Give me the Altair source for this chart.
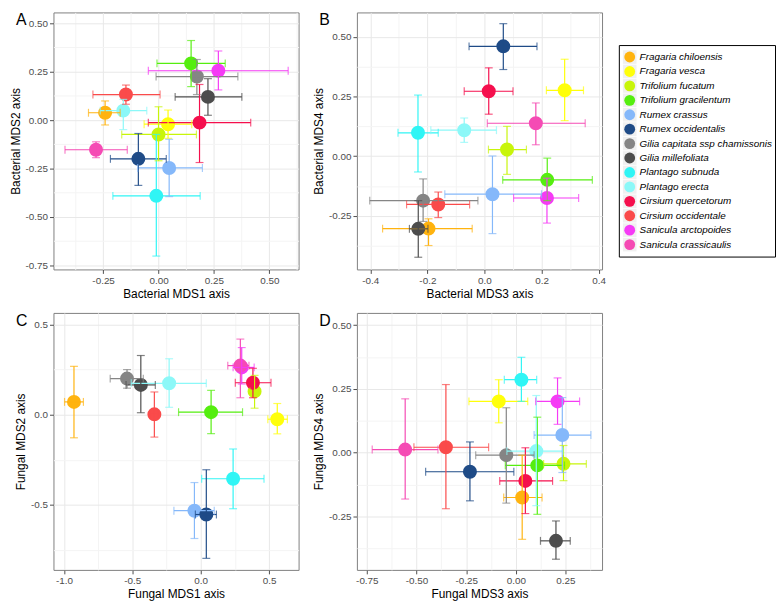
import altair as alt
import pandas as pd

species = ["Fragaria chiloensis", "Fragaria vesca", "Trifolium fucatum", "Trifolium gracilentum",
           "Rumex crassus", "Rumex occidentalis", "Gilia capitata ssp chamissonis", "Gilia millefoliata",
           "Plantago subnuda", "Plantago erecta", "Cirsium quercetorum", "Cirsium occidentale",
           "Sanicula arctopoides", "Sanicula crassicaulis"]
colors = ["#FFB30F", "#FFFF0A", "#C8F50A", "#55EE0F", "#85B8FA", "#1F4B87", "#858585", "#4D4D4D",
          "#30F5F5", "#8CF8F8", "#F50F4D", "#FA4B4B", "#F53BF5", "#F54BB4"]

# Panel A: Bacterial MDS1 vs MDS2
a_x = [-0.241, 0.043, 0.000, 0.147, 0.048, -0.091, 0.173, 0.223, -0.010, -0.159, 0.185, -0.147, 0.270, -0.282]
a_xlo = [-0.316, -0.065, -0.166, -0.007, -0.094, -0.217, -0.011, 0.075, -0.206, -0.263, -0.046, -0.296, -0.046, -0.422]
a_xhi = [-0.173, 0.150, 0.171, 0.301, 0.198, 0.035, 0.358, 0.376, 0.188, -0.053, 0.416, 0.007, 0.585, -0.141]
a_y = [0.038, -0.021, -0.074, 0.293, -0.247, -0.200, 0.225, 0.120, -0.391, 0.049, -0.013, 0.132, 0.255, -0.153]
a_ylo = [-0.025, -0.094, -0.210, 0.173, -0.395, -0.337, 0.132, 0.025, -0.702, -0.049, -0.219, 0.082, 0.156, -0.194]
a_yhi = [0.099, 0.052, 0.069, 0.411, -0.099, -0.069, 0.313, 0.214, -0.074, 0.107, 0.184, 0.181, 0.357, -0.112]

# Panel B: Bacterial MDS3 vs MDS4
b_x = [-0.196, 0.281, 0.079, 0.220, 0.028, 0.066, -0.215, -0.232, -0.233, -0.071, 0.015, -0.162, 0.219, 0.180]
b_xlo = [-0.357, 0.217, 0.014, 0.064, -0.139, -0.054, -0.402, -0.263, -0.303, -0.188, -0.071, -0.273, 0.102, 0.010]
b_xhi = [-0.043, 0.347, 0.147, 0.378, 0.200, 0.184, -0.023, -0.198, -0.162, 0.042, 0.100, -0.052, 0.330, 0.353]
b_y = [-0.303, 0.276, 0.028, -0.099, -0.159, 0.460, -0.186, -0.304, 0.098, 0.109, 0.272, -0.202, -0.175, 0.138]
b_ylo = [-0.374, 0.149, -0.076, -0.186, -0.324, 0.363, -0.273, -0.423, -0.066, 0.058, 0.176, -0.257, -0.280, 0.048]
b_yhi = [-0.262, 0.406, 0.125, -0.008, 0.001, 0.555, -0.095, -0.186, 0.256, 0.160, 0.370, -0.150, -0.092, 0.223]

# Panel C: Fungal MDS1 vs MDS2
c_x = [-0.927, 0.560, 0.394, 0.076, -0.046, 0.041, -0.539, -0.438, 0.237, -0.231, 0.382, -0.339, 0.300, 0.290]
c_xlo = [-0.996, 0.491, 0.360, -0.162, -0.196, -0.039, -0.662, -0.546, 0.007, -0.508, 0.253, -0.370, 0.237, 0.198]
c_xhi = [-0.858, 0.634, 0.430, 0.306, 0.099, 0.115, -0.420, -0.332, 0.463, 0.041, 0.514, -0.310, 0.391, 0.353]
c_y = [0.071, -0.025, 0.129, 0.014, -0.532, -0.553, 0.200, 0.165, -0.355, 0.174, 0.177, 0.002, 0.262, 0.272]
c_ylo = [-0.128, -0.106, 0.036, -0.105, -0.686, -0.796, 0.147, 0.011, -0.521, 0.041, 0.094, -0.124, 0.170, 0.094]
c_yhi = [0.268, 0.062, 0.218, 0.135, -0.376, -0.305, 0.250, 0.328, -0.190, 0.310, 0.257, 0.126, 0.372, 0.419]

# Panel D: Fungal MDS3 vs MDS4
d_x = [0.032, -0.086, 0.240, 0.108, 0.234, -0.231, -0.048, 0.202, 0.028, 0.103, 0.048, -0.352, 0.210, -0.557]
d_xlo = [-0.061, -0.236, 0.140, -0.053, 0.092, -0.454, -0.202, 0.124, -0.058, -0.045, -0.081, -0.513, 0.100, -0.723]
d_xhi = [0.132, 0.060, 0.355, 0.245, 0.378, -0.010, 0.092, 0.274, 0.105, 0.237, 0.185, -0.137, 0.321, -0.392]
d_y = [-0.176, 0.201, -0.044, -0.050, 0.069, -0.075, -0.010, -0.346, 0.286, 0.006, -0.111, 0.021, 0.201, 0.012]
d_ylo = [-0.340, 0.117, -0.110, -0.242, -0.078, -0.189, -0.198, -0.418, 0.201, -0.208, -0.239, -0.220, 0.111, -0.182]
d_yhi = [-0.010, 0.286, 0.028, 0.139, 0.216, 0.042, 0.176, -0.268, 0.374, 0.224, 0.019, 0.267, 0.293, 0.211]

FONT = "Liberation Sans"
W, H = 248, 260

cscale = alt.Scale(domain=species, range=colors)
col = alt.Color("species:N", scale=cscale, legend=None)


def make_axis(vals, step, fmt):
    major = f"abs(datum.value/{step} - round(datum.value/{step})) < 1e-6"
    return alt.Axis(
        values=vals,
        labelOverlap=False,
        labelExpr=f"{major} ? replace(format(datum.value, '{fmt}'), '\u2212', '-') : ''",
        gridColor={"condition": {"test": major, "value": "#E8E8E8"}, "value": "#F4F4F4"},
        tickOpacity={"condition": {"test": major, "value": 1}, "value": 0},
    )


def panel(xs, xlo, xhi, ys, ylo, yhi, xt, yt, xdom, ydom, xvals, yvals, xstep, ystep, xfmt, yfmt, letter):
    df = pd.DataFrame({"species": species, "x": xs, "xlo": xlo, "xhi": xhi,
                       "y": ys, "ylo": ylo, "yhi": yhi})
    xscale = alt.Scale(domain=xdom, zero=False, nice=False)
    yscale = alt.Scale(domain=ydom, zero=False, nice=False)
    xaxis = make_axis(xvals, xstep, xfmt)
    yaxis = make_axis(yvals, ystep, yfmt)

    def X(f):
        return alt.X(f, type="quantitative", scale=xscale, axis=xaxis, title=xt)

    def Y(f):
        return alt.Y(f, type="quantitative", scale=yscale, axis=yaxis, title=yt)

    base = alt.Chart(df)
    pts = base.mark_circle(size=200, opacity=1).encode(x=X("x"), y=Y("y"), color=col)
    hbar = base.mark_rule(strokeWidth=1.2).encode(x=X("xlo"), x2="xhi", y=Y("y"), color=col)
    vbar = base.mark_rule(strokeWidth=1.2).encode(y=Y("ylo"), y2="yhi", x=X("x"), color=col)
    cap1 = base.mark_tick(orient="vertical", size=8, thickness=1.2).encode(x=X("xlo"), y=Y("y"), color=col)
    cap2 = base.mark_tick(orient="vertical", size=8, thickness=1.2).encode(x=X("xhi"), y=Y("y"), color=col)
    cap3 = base.mark_tick(orient="horizontal", size=8, thickness=1.2).encode(x=X("x"), y=Y("ylo"), color=col)
    cap4 = base.mark_tick(orient="horizontal", size=8, thickness=1.2).encode(x=X("x"), y=Y("yhi"), color=col)
    lab = alt.Chart(pd.DataFrame({"t": [letter]})).mark_text(
        align="left", baseline="top", fontSize=16, font=FONT, color="black").encode(
        text="t:N", x=alt.value(-38), y=alt.value(0))
    return alt.layer(pts, hbar, vbar, cap1, cap2, cap3, cap4, lab).properties(width=W, height=H)


pA = panel(a_x, a_xlo, a_xhi, a_y, a_ylo, a_yhi, "Bacterial MDS1 axis", "Bacterial MDS2 axis",
           [-0.474, 0.632], [-0.771, 0.556],
           [-0.375, -0.25, -0.125, 0.0, 0.125, 0.25, 0.375, 0.5, 0.625],
           [-0.75, -0.625, -0.5, -0.375, -0.25, -0.125, 0.0, 0.125, 0.25, 0.375, 0.5],
           0.25, 0.25, ".2f", ".2f", "A")
pB = panel(b_x, b_xlo, b_xhi, b_y, b_ylo, b_yhi, "Bacterial MDS3 axis", "Bacterial MDS4 axis",
           [-0.447, 0.412], [-0.474, 0.602],
           [-0.4, -0.3, -0.2, -0.1, 0.0, 0.1, 0.2, 0.3, 0.4],
           [-0.375, -0.25, -0.125, 0.0, 0.125, 0.25, 0.375, 0.5],
           0.2, 0.25, ".1f", ".2f", "B")
pC = panel(c_x, c_xlo, c_xhi, c_y, c_ylo, c_yhi, "Fungal MDS1 axis", "Fungal MDS2 axis",
           [-1.077, 0.716], [-0.86, 0.564],
           [-1.0, -0.75, -0.5, -0.25, 0.0, 0.25, 0.5],
           [-0.75, -0.5, -0.25, 0.0, 0.25, 0.5],
           0.5, 0.5, ".1f", ".1f", "C")
pD = panel(d_x, d_xlo, d_xhi, d_y, d_ylo, d_yhi, "Fungal MDS3 axis", "Fungal MDS4 axis",
           [-0.8, 0.434], [-0.46, 0.548],
           [-0.75, -0.625, -0.5, -0.375, -0.25, -0.125, 0.0, 0.125, 0.25, 0.375],
           [-0.375, -0.25, -0.125, 0.0, 0.125, 0.25, 0.375, 0.5],
           0.25, 0.25, ".2f", ".2f", "D")

# Legend panel (drawn from the species list)
leg_df = pd.DataFrame({"species": species})
ly = alt.Y("species:N", sort=species, axis=None, scale=alt.Scale(type="point", padding=0.83))
leg_base = alt.Chart(leg_df)
leg_key = leg_base.mark_square(size=190, color="#F0F0F0", opacity=1).encode(y=ly, x=alt.value(11))
leg_pt = leg_base.mark_circle(size=120, opacity=1).encode(y=ly, x=alt.value(11), color=col)
leg_txt = leg_base.mark_text(align="left", baseline="middle", fontSize=10, font=FONT,
                             fontStyle="italic", color="black").encode(
    y=ly, x=alt.value(21), text="species:N")
legend_chart = alt.layer(leg_key, leg_pt, leg_txt).properties(
    width=158, height=214, view=alt.ViewConfig(stroke="black", strokeWidth=1, fill="white"))

spacer = alt.Chart(pd.DataFrame({"a": [0]})).mark_point(opacity=0, size=0).encode(
    x=alt.value(0), y=alt.value(0)).properties(
    width=10, height=10, view=alt.ViewConfig(stroke="transparent"))

legend_col = alt.vconcat(spacer, legend_chart, spacing=21)

top = alt.hconcat(pA, pB, legend_col, spacing=12)
bottom = alt.hconcat(pC, pD, spacing=12)
chart = alt.vconcat(top, bottom, spacing=12).properties(padding=0).configure_view(
    stroke="#7F7F7F", strokeWidth=1
).configure_axis(
    domain=False, labelFont=FONT, labelFontSize=10, labelColor="#4D4D4D",
    titleFont=FONT, titleFontSize=12, titleColor="black", titleFontWeight="normal",
    tickSize=4, tickColor="#4D4D4D", labelPadding=2, titlePadding=3
)

chart.save("out.html", embed_options={"renderer": "svg", "actions": False})
